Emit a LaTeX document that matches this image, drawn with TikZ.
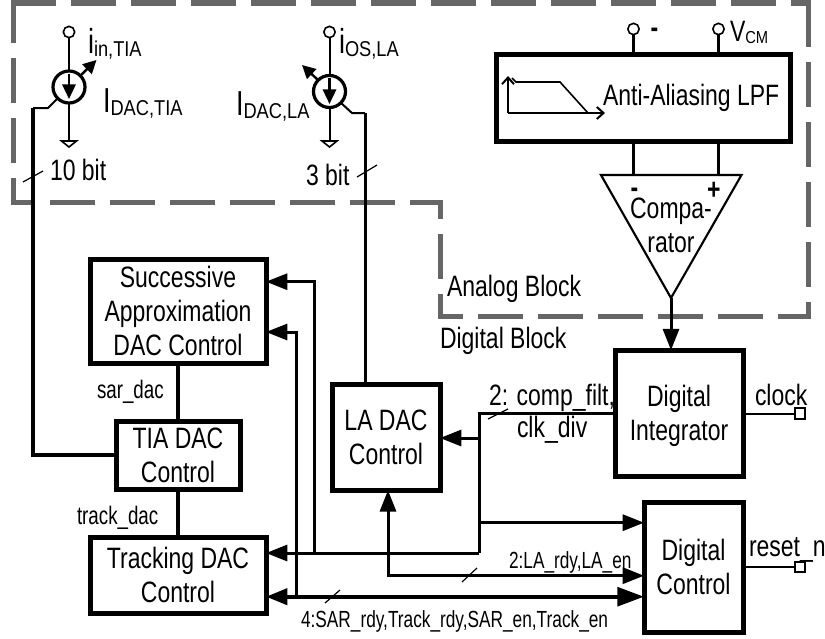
\documentclass[tikz,border=0pt]{standalone}
\usepackage{fontspec}
\setmainfont[FakeStretch=0.78]{Liberation Sans}
\newfontfamily\narrowf[FakeStretch=0.74]{Liberation Sans}
\newfontfamily\subfam[FakeStretch=0.85]{Liberation Sans}
\usetikzlibrary{arrows.meta}
\newcommand{\mf}{\fontsize{22.1pt}{25.5pt}\selectfont}
\newcommand{\bigf}{\fontsize{26pt}{28pt}\selectfont}
\newcommand{\subf}{\subfam\fontsize{16.1pt}{20pt}\selectfont}
\newcommand{\smf}{\narrowf\fontsize{17.5pt}{20pt}\selectfont}
\newcommand{\sigf}{\narrowf\fontsize{19pt}{20pt}\selectfont}
\newcommand{\st}{\rule[-5.25pt]{0pt}{25.5pt}}
\newcommand{\curlab}[2]{{\bigf #1}{\subf\raisebox{-2.4pt}{#2}}}
\tikzset{
  zone/.style={draw=black!60,line width=3.75pt,line cap=butt,dash pattern=on 33.75pt off 11.25pt},
  blockbox/.style={draw,line width=3.75pt,fill=white,inner sep=0pt,outer sep=0pt,align=center,font=\mf},
  lbl/.style={anchor=base west,inner sep=0pt,outer sep=0pt,font=\mf},
  clbl/.style={anchor=base,inner sep=0pt,outer sep=0pt,font=\mf},
  pinring/.style={draw,circle,line width=1.2pt,fill=white,minimum size=8.5pt,inner sep=0pt,outer sep=0pt},
  pinsq/.style={draw,rectangle,line width=1.5pt,fill=white,minimum size=8pt,inner sep=0pt,outer sep=0pt},
  csrc/.style={draw,circle,line width=2.4pt,fill=white,minimum size=24pt,inner sep=0pt,outer sep=0pt},
  thin wire/.style={line width=1.5pt},
  mid wire/.style={line width=2.25pt},
  bus wire/.style={line width=3pt},
  tick/.style={line width=.9pt},
  tri/.style={-{Triangle[length=16pt,width=12pt]}},
  tribig/.style={-{Triangle[length=20pt,width=14pt]}},
  gnd/.style={draw,line width=1.2pt,fill=white}
}
\begin{document}
\begin{tikzpicture}[x=.75pt,y=-.75pt]
\useasboundingbox (0,0) rectangle (825,639);
% dashed zone
\draw[zone] (11,3) -- (810.5,3);
\draw[zone] (808,2) -- (808,318.5);
\draw[zone,dash phase=9.4pt] (810.5,316) -- (437.5,316);
\draw[zone,dash phase=15pt] (440,318.5) -- (440,199.5);
\draw[zone,dash phase=9.4pt] (442.5,202) -- (10.5,202);
\draw[zone,dash phase=13.9pt] (13,204.5) -- (13,1);
% blocks
\node[blockbox,minimum width=132pt,minimum height=78pt] (sar) at (178,311) {\st Successive\\\st Approximation\\\st DAC Control};
\node[blockbox,minimum width=93pt,minimum height=51pt] (tia) at (178,455) {\st TIA DAC\\\st Control};
\node[blockbox,minimum width=132pt,minimum height=57pt] (track) at (178,575) {\st Tracking DAC\\\st Control};
\node[blockbox,minimum width=81pt,minimum height=79pt] (la) at (386,437.5) {\st LA DAC\\\st Control};
\node[blockbox,minimum width=96pt,minimum height=95pt] (integ) at (679,413.5) {\st Digital\\\st Integrator};
\node[blockbox,minimum width=74.25pt,minimum height=97pt] (ctrl) at (693.5,567.5) {\st Digital\\\st Control};
\node[blockbox,minimum width=220.5pt,minimum height=65.5pt] (lpf) at (643,98) {};
% TIA current source
\node[pinring] (p1) at (69,32) {};
\node[csrc] (s1) at (69,87) {};
\coordinate (g1) at (69,141);
\draw[thin wire] (p1) -- (s1);
\draw[thin wire] (s1) -- (g1);
\draw[gnd] (61.5,141) -- (76.5,141) -- (69,147) -- cycle;
\draw[line width=1.8pt,-{Triangle[length=11pt,width=10pt]}] (69,74) -- (69,99);
\coordinate (a1) at (96.5,60);
\draw[line width=1.8pt,-{Triangle[length=10pt,width=10pt]}] (s1.45) -- (a1);
\coordinate (w1) at (33,108);
\draw[thin wire] (s1.225) -- (48,108) -- (w1);
\draw[bus wire] (w1) -- (33,455) -- (tia.west);
\draw[tick] (23,182) -- (43,171);
% LA current source
\node[pinring] (p2) at (329.5,32) {};
\node[csrc] (s2) at (329.5,91.5) {};
\coordinate (g2) at (329.5,141);
\draw[thin wire] (p2) -- (s2);
\draw[thin wire] (s2) -- (g2);
\draw[gnd] (322,141) -- (337,141) -- (329.5,147) -- cycle;
\draw[line width=1.8pt,-{Triangle[length=11pt,width=10pt]}] (329.5,78) -- (329.5,104);
\coordinate (a2) at (302,65);
\draw[line width=1.8pt,-{Triangle[length=10pt,width=10pt]}] (s2.135) -- (a2);
\coordinate (w2) at (365,113);
\draw[thin wire] (s2.-45) -- (352,113) -- (w2);
\draw[mid wire] (w2) -- (la.north -| w2);
\draw[tick] (357,177) -- (377,165);
% labels of the sources
\node[lbl] (il1) at (88,53.5) {\curlab{i}{in,TIA}};
\node[lbl] (il2) at (103,112) {\curlab{I}{DAC,TIA}};
\node[lbl] (il3) at (339,53.5) {\curlab{i}{OS,LA}};
\node[lbl] (il4) at (236,115) {\curlab{I}{DAC,LA}};
\node[lbl] (bit1) at (50,180) {10 bit};
\node[lbl] (bit2) at (306,185) {3 bit};
% LPF
\node[pinring] (p3) at (633.5,29) {};
\node[pinring] (p4) at (718.5,29) {};
\draw[mid wire] (p3) -- (p3 |- lpf.north);
\draw[mid wire] (p4) -- (p4 |- lpf.north);
\node[lbl] (minus) at (650.5,37) {\bfseries -};
\node[lbl] (vcm) at (730,41) {V{\subfam\fontsize{13pt}{15pt}\selectfont\raisebox{-1.5pt}{CM}}};
\draw[thin wire,-{Straight Barb[length=5pt,width=9pt]}] (508,113) -- (508,76);
\draw[thin wire,-{Straight Barb[length=5pt,width=9pt]}] (508,113) -- (605,113);
\draw[line width=1.2pt] (512,78) -- (516,82) -- (560,82) -- (588,113);
\node[lbl] (lpft) at (603,105) {Anti-Aliasing LPF};
% comparator
\coordinate (cl) at (633.5,175);
\coordinate (cr) at (718.5,175);
\coordinate (ctip) at (671,298);
\draw[mid wire] (cl |- lpf.south) -- (cl);
\draw[mid wire] (cr |- lpf.south) -- (cr);
\draw[line width=1.6pt,line join=miter] (601,175) -- (741.5,175) -- (ctip) -- cycle;
\node[lbl] (cm) at (630.5,197) {\bfseries -};
\node[lbl,font=\bfseries\mf] (cp) at (707,199) {+};
\node[clbl] (c1) at (671,218) {Compa-};
\node[clbl] (c2) at (671,252) {rator};
\draw[mid wire,tri] (ctip) -- (ctip |- integ.north);
\node[lbl] (ana) at (447,296) {Analog Block};
\node[lbl] (dig) at (440,348) {Digital Block};
% stack links
\draw[bus wire] (sar.south) -- (tia.north);
\draw[bus wire] (tia.south) -- (track.north);
\node[lbl,font=\sigf] (sd) at (97,398) {sar\_dac};
\node[lbl,font=\sigf] (td) at (77,524) {track\_dac};
% digital nets
\coordinate (j1) at (479,413.5);
\coordinate (j2) at (479,553);
\coordinate (j3) at (314.3,553);
\coordinate (j4) at (296.7,596.7);
\coordinate (j5) at (388,575.7);
\draw[mid wire] (integ.west |- j1) -- (j1) -- (j2);
\draw[mid wire,tri] (j2) -- (track.east |- j2);
\draw[mid wire,tri] (j3) -- (314.3,281.7) -- (sar.east |- 0,281.7);
\draw[mid wire,tri] (j4) -- (296.7,332) -- (sar.east |- 0,332);
\draw[mid wire,tri] (479,438) -- (la.east |- 0,438);
\draw[mid wire,tri] (479,522.7) -- (ctrl.west |- 0,522.7);
\draw[mid wire,{Triangle[length=16pt,width=12pt]}-{Triangle[length=16pt,width=12pt]}] (j5 |- la.south) -- (j5) -- (ctrl.west |- j5);
\draw[bus wire,{Triangle[length=16pt,width=12pt]}-{Triangle[length=20pt,width=14pt]}] (track.east |- j4) -- (ctrl.west |- j4);
\draw[tick] (488,419) -- (508,409);
\draw[tick] (462,582) -- (477,568);
\draw[tick] (325,603) -- (340,590);
\node[lbl] (b1) at (489,405) {2: comp\_filt,};
\node[lbl] (b2) at (517,437) {clk\_div};
\node[lbl,font=\smf] (b3) at (509,568) {2:LA\_rdy,LA\_en};
\node[lbl,font=\smf] (b4) at (301,627) {4:SAR\_rdy,Track\_rdy,SAR\_en,Track\_en};
% outputs
\node[pinsq] (ck) at (800,413.5) {};
\node[pinsq] (rs) at (800,567) {};
\draw[thin wire] (integ.east |- ck) -- (ck);
\draw[thin wire] (ctrl.east |- rs) -- (rs);
\node[lbl] (ckt) at (755,405) {clock};
\node[lbl] (rst) at (749,556) {reset\_n};
\end{tikzpicture}
\end{document}
